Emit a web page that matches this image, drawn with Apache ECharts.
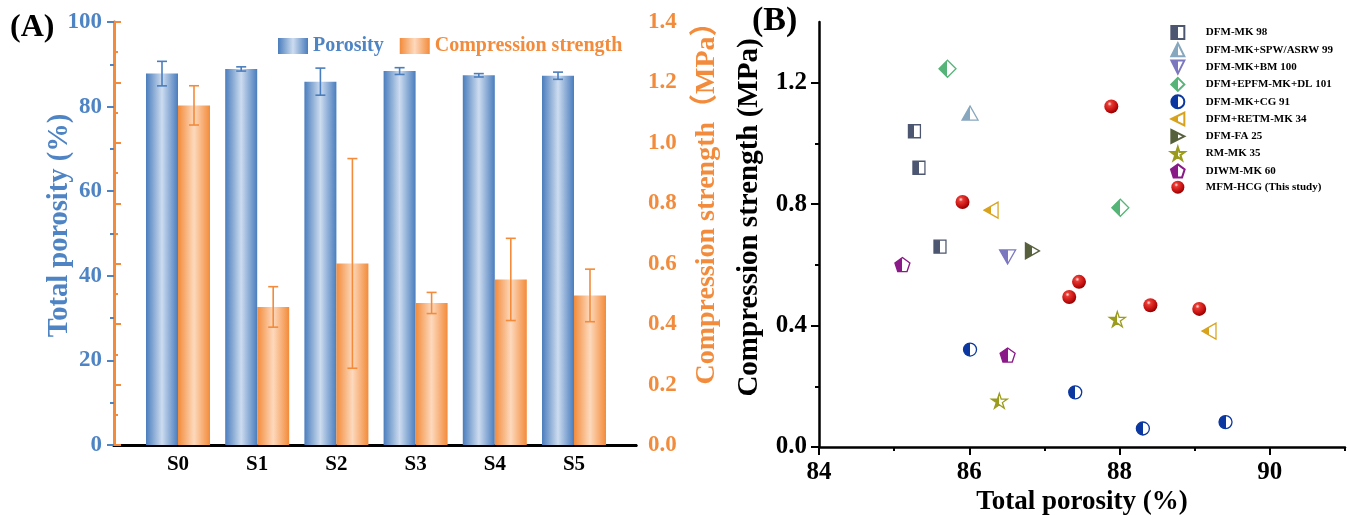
<!DOCTYPE html>
<html>
<head>
<meta charset="utf-8">
<script src="https://cdn.jsdelivr.net/npm/echarts@6/dist/echarts.min.js"></script>
<style>
  html, body { margin: 0; padding: 0; background: #fff; }
  #chart { width: 1348px; height: 515px; }
</style>
</head>
<body>
<div id="chart"></div>
<script>
// ---- panel A data ----
var samples = ['S0', 'S1', 'S2', 'S3', 'S4', 'S5'];
var porosity = [87.8, 88.9, 85.9, 88.4, 87.4, 87.3];
var porosityErr = [2.9, 0.5, 3.2, 0.8, 0.4, 0.85];
var strength = [1.124, 0.457, 0.601, 0.470, 0.548, 0.495];
var strengthErr = [0.065, 0.067, 0.347, 0.035, 0.136, 0.087];
var porTicks = { min: 0, max: 100, interval: 20 };
var strTicks = { min: 0, max: 1.4, interval: 0.2 };

// ---- panel B data: [total porosity %, compression strength MPa] ----
var dfmMk98 = [[85.27, 1.04], [85.33, 0.92], [85.61, 0.66]];
var dfmSpw99 = [[86.01, 1.10]];
var dfmBm100 = [[86.51, 0.626]];
var dfmEpfm101 = [[85.71, 1.246], [88.01, 0.788]];
var dfmCg91 = [[86.01, 0.321], [87.41, 0.18], [88.31, 0.061], [89.41, 0.082]];
var dfmRetm34 = [[86.29, 0.78], [89.19, 0.382]];
var dfmFa25 = [[86.84, 0.646]];
var rmMk35 = [[86.40, 0.152], [87.97, 0.421]];
var diwmMk60 = [[85.11, 0.601], [86.51, 0.303]];
var mfmHcg = [[87.89, 1.122], [85.91, 0.807], [87.46, 0.544], [87.33, 0.494], [88.41, 0.467], [89.06, 0.455]];
var bxLabels = [84, 86, 88, 90];
var bxMinor = [85, 87, 89, 91];
var byLabels = [0, 0.4, 0.8, 1.2];
var byMinor = [0.2, 0.6, 1.0];

var FONT = '"Liberation Serif", "Times New Roman", "Noto Sans CJK SC", serif';
var BLUE = '#4e84c4';
var ORANGE = '#f28c3c';
var BAR_W = 32;

function grad(edge, mid) {
  return { type: 'linear', x: 0, y: 0, x2: 1, y2: 0,
    colorStops: [{ offset: 0, color: edge }, { offset: 0.5, color: mid }, { offset: 1, color: edge }] };
}
function half(c) {
  return { type: 'linear', x: 0, y: 0, x2: 1, y2: 0,
    colorStops: [{ offset: 0, color: c }, { offset: 0.5, color: c }, { offset: 0.5, color: '#fff' }, { offset: 1, color: '#fff' }] };
}

var SQ = 'path://M0,0L100,0L100,100L0,100Z';
var TRI_UP = 'path://M50,0L100,100L0,100Z';
var TRI_DOWN = 'path://M0,0L100,0L50,100Z';
var TRI_LEFT = 'path://M0,50L100,0L100,100Z';
var TRI_RIGHT = 'path://M100,50L0,0L0,100Z';
var DIAMOND = 'path://M50,0L100,50L50,100L0,50Z';
var CIRCLE = 'path://M0,50A50,50,0,1,1,100,50A50,50,0,1,1,0,50Z';
var STAR = 'path://M50,0L61.2,34.6L97.6,34.5L68.1,55.9L79.4,90.5L50,69L20.6,90.5L31.9,55.9L2.4,34.5L38.8,34.6Z';
var PENT = 'path://M50,0L97.6,34.5L79.4,90.5L20.6,90.5L2.4,34.5Z';

function scatter(name, data, symbol, size, color) {
  return {
    name: name, type: 'scatter', xAxisIndex: 3, yAxisIndex: 4,
    data: data, symbol: symbol, symbolSize: size,
    itemStyle: { color: half(color), borderColor: color, borderWidth: 1.3, opacity: 1 }
  };
}

function errRender(sign, color) {
  return function (params, api) {
    var i = api.value(0);
    var top = api.coord([i, api.value(2)]);
    var bot = api.coord([i, api.value(1)]);
    var x = top[0] + sign * BAR_W / 2;
    var st = { stroke: color, lineWidth: 1.6 };
    return { type: 'group', children: [
      { type: 'line', shape: { x1: x, y1: top[1], x2: x, y2: bot[1] }, style: st },
      { type: 'line', shape: { x1: x - 5, y1: top[1], x2: x + 5, y2: top[1] }, style: st },
      { type: 'line', shape: { x1: x - 5, y1: bot[1], x2: x + 5, y2: bot[1] }, style: st }
    ] };
  };
}

var chart = echarts.init(document.getElementById('chart'));

var lbl = function (color, size) { return { color: color, fontFamily: FONT, fontWeight: 'bold', fontSize: size }; };
// rotated axis names sit above the plot centre in the original, shifted with left padding
var nameStyle = function (color, size, shift) { return Object.assign(lbl(color, size), { padding: [0, 0, 0, shift * 2] }); };

var option = {
  animation: false,
  title: [
    { text: '(A)', left: 10, top: 12, padding: 0, textStyle: lbl('#000', 32) },
    { text: '(B)', left: 752, top: 4, padding: 0, textStyle: lbl('#000', 34) }
  ],
  legend: [
    {
      left: 278, top: 36, padding: 0, itemWidth: 30, itemHeight: 16, itemGap: 16,
      textStyle: lbl(BLUE, 20),
      data: [
        { name: 'Porosity', icon: 'rect', textStyle: { color: BLUE } },
        { name: 'Compression strength', icon: 'rect', textStyle: { color: ORANGE } }
      ]
    },
    {
      orient: 'vertical', left: 1165, top: 20, itemWidth: 46, itemHeight: 13, itemGap: 2.3,
      textStyle: lbl('#000', 11),
      data: ['DFM-MK 98', 'DFM-MK+SPW/ASRW 99', 'DFM-MK+BM 100', 'DFM+EPFM-MK+DL 101', 'DFM-MK+CG 91',
        'DFM+RETM-MK 34', 'DFM-FA 25', 'RM-MK 35', 'DIWM-MK 60', 'MFM-HCG (This study)']
    }
  ],
  grid: [
    { left: 114, right: 712, top: 22, bottom: 70, outerBoundsMode: 'none' },
    { left: 138.4, width: 475.2, top: 22, bottom: 70, outerBoundsMode: 'none' },
    { left: 819, right: 3, top: 22, bottom: 68, outerBoundsMode: 'none' }
  ],
  xAxis: [
    { gridIndex: 0, type: 'value', min: 0, max: 1, position: 'bottom', axisLine: { lineStyle: { color: '#000', width: 3 } },
      axisTick: { show: false }, axisLabel: { show: false }, splitLine: { show: false } },
    { gridIndex: 0, type: 'value', min: 0, max: 1, position: 'top', axisLine: { lineStyle: { color: '#000', width: 3 } },
      axisTick: { show: false }, axisLabel: { show: false }, splitLine: { show: false } },
    { gridIndex: 1, type: 'category', data: samples, axisLine: { show: false }, axisTick: { show: false },
      axisLabel: Object.assign({ margin: 9 }, lbl('#000', 21)) },
    { gridIndex: 2, type: 'value', min: 84, max: 91, position: 'bottom',
      axisLine: { onZero: false, lineStyle: { color: '#000', width: 2.5 } },
      axisTick: { customValues: bxMinor, length: 4, lineStyle: { color: '#000', width: 2 } },
      axisLabel: Object.assign({ customValues: bxLabels, margin: 13 }, lbl('#000', 25)),
      splitLine: { show: false },
      name: 'Total porosity (%)', nameLocation: 'middle', nameGap: 42, nameMoveOverlap: false, nameTextStyle: lbl('#000', 27) },
    { gridIndex: 2, type: 'value', min: 84, max: 91, position: 'bottom', axisLine: { show: false, onZero: false },
      axisTick: { customValues: bxLabels, length: 8, lineStyle: { color: '#000', width: 2 } },
      axisLabel: { show: false }, splitLine: { show: false } }
  ],
  yAxis: [
    { gridIndex: 0, type: 'value', min: porTicks.min, max: porTicks.max, interval: porTicks.interval, position: 'left',
      axisLine: { show: true, lineStyle: { color: BLUE, width: 3 } },
      axisTick: { show: true, length: 7, lineStyle: { color: BLUE, width: 2 } },
      minorTick: { show: true, splitNumber: 2, length: 4, lineStyle: { color: BLUE, width: 2 } },
      axisLabel: Object.assign({ margin: 12 }, lbl(BLUE, 23)),
      splitLine: { show: false },
      name: 'Total porosity (%)', nameLocation: 'middle', nameRotate: 90, nameGap: 40, nameMoveOverlap: false,
      nameTextStyle: nameStyle(BLUE, 28.5, 8) },
    { gridIndex: 0, type: 'value', min: strTicks.min, max: strTicks.max, interval: strTicks.interval, position: 'right',
      axisLine: { show: true, lineStyle: { color: ORANGE, width: 3 } },
      axisTick: { show: true, length: 7, lineStyle: { color: ORANGE, width: 2 } },
      minorTick: { show: true, splitNumber: 2, length: 4, lineStyle: { color: ORANGE, width: 2 } },
      axisLabel: Object.assign({ margin: 12, formatter: function (v) { return v.toFixed(1); } }, lbl(ORANGE, 23)),
      splitLine: { show: false },
      name: 'Compression strength（MPa）', nameLocation: 'middle', nameRotate: 90, nameGap: 57, nameMoveOverlap: false,
      nameTextStyle: nameStyle(ORANGE, 28, 37) },
    { gridIndex: 1, type: 'value', min: porTicks.min, max: porTicks.max, show: false },
    { gridIndex: 1, type: 'value', min: strTicks.min, max: strTicks.max, show: false },
    { gridIndex: 2, type: 'value', min: 0, max: 1.4, position: 'left',
      axisLine: { show: true, onZero: false, lineStyle: { color: '#000', width: 2.5 } },
      axisTick: { show: true, customValues: byMinor, length: 4, lineStyle: { color: '#000', width: 2 } },
      axisLabel: Object.assign({ customValues: byLabels, margin: 12, formatter: function (v) { return v.toFixed(1); } }, lbl('#000', 25)),
      splitLine: { show: false },
      name: 'Compression strength (MPa)', nameLocation: 'middle', nameRotate: 90, nameGap: 55, nameMoveOverlap: false,
      nameTextStyle: nameStyle('#000', 29, 17) },
    { gridIndex: 2, type: 'value', min: 0, max: 1.4, position: 'left', axisLine: { show: false, onZero: false },
      axisTick: { show: true, customValues: byLabels, length: 8, lineStyle: { color: '#000', width: 2 } },
      axisLabel: { show: false }, splitLine: { show: false } }
  ],
  series: [
    { name: 'Porosity', type: 'bar', xAxisIndex: 2, yAxisIndex: 2, data: porosity, barWidth: BAR_W, barGap: '0%',
      itemStyle: { color: grad('#4a7dbd', '#cddcef') } },
    { name: 'Compression strength', type: 'bar', xAxisIndex: 2, yAxisIndex: 3, data: strength, barWidth: BAR_W, barGap: '0%',
      itemStyle: { color: grad('#f38b3a', '#fdd9bd') } },
    { type: 'custom', xAxisIndex: 2, yAxisIndex: 2, z: 5, renderItem: errRender(-1, '#4a7dbd'),
      encode: { x: 0, y: [1, 2] },
      data: samples.map(function (s, i) { return [i, porosity[i] - porosityErr[i], porosity[i] + porosityErr[i]]; }) },
    { type: 'custom', xAxisIndex: 2, yAxisIndex: 3, z: 5, renderItem: errRender(1, '#f38b3a'),
      encode: { x: 0, y: [1, 2] },
      data: samples.map(function (s, i) { return [i, strength[i] - strengthErr[i], strength[i] + strengthErr[i]]; }) },
    scatter('DFM-MK 98', dfmMk98, SQ, [12, 13], '#4d5670'),
    scatter('DFM-MK+SPW/ASRW 99', dfmSpw99, TRI_UP, [16, 14], '#86a7be'),
    scatter('DFM-MK+BM 100', dfmBm100, TRI_DOWN, [16, 14], '#7b78c0'),
    scatter('DFM+EPFM-MK+DL 101', dfmEpfm101, DIAMOND, [17, 17], '#56b478'),
    scatter('DFM-MK+CG 91', dfmCg91, CIRCLE, [13, 13], '#0b38a0'),
    scatter('DFM+RETM-MK 34', dfmRetm34, TRI_LEFT, [14, 16], '#d8a21c'),
    scatter('DFM-FA 25', dfmFa25, TRI_RIGHT, [14, 16], '#56603c'),
    scatter('RM-MK 35', rmMk35, STAR, [16, 15], '#9c9c1c'),
    scatter('DIWM-MK 60', diwmMk60, PENT, [15, 14], '#8a1a88'),
    {
      name: 'MFM-HCG (This study)', type: 'scatter', xAxisIndex: 3, yAxisIndex: 4, data: mfmHcg,
      symbol: CIRCLE, symbolSize: 14,
      itemStyle: {
        opacity: 1,
        color: { type: 'radial', x: 0.38, y: 0.32, r: 0.7,
          colorStops: [{ offset: 0, color: '#ffe6e6' }, { offset: 0.22, color: '#e83a32' }, { offset: 0.7, color: '#c41010' }, { offset: 1, color: '#8a0000' }] }
      }
    }
  ]
};

chart.setOption(option);
</script>
</body>
</html>
